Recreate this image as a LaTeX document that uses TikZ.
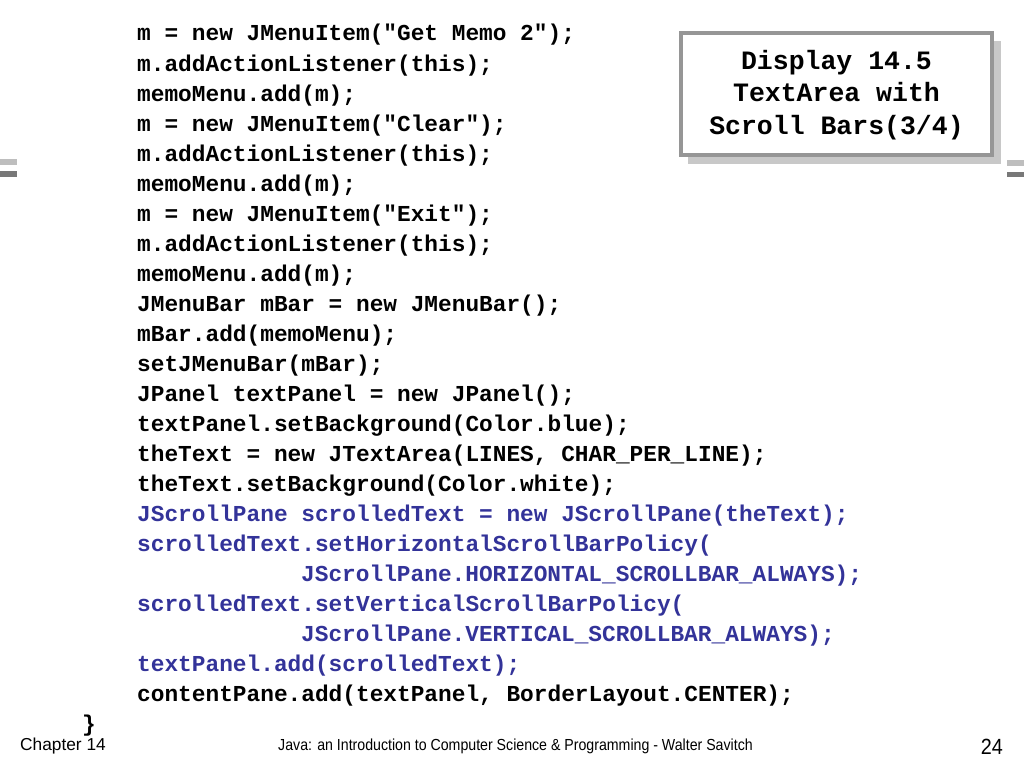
\documentclass[tikz,border=0pt]{standalone}
\usepackage{fontspec}
\setmainfont{Liberation Sans}
\newfontfamily\codefont{Liberation Mono}
\usetikzlibrary{positioning}
\definecolor{codeblue}{RGB}{51,51,153}
\definecolor{boxline}{RGB}{150,150,150}
\definecolor{boxshade}{RGB}{200,200,200}
\definecolor{barlight}{RGB}{190,190,190}
\definecolor{bardark}{RGB}{120,120,120}

\begin{document}
\begin{tikzpicture}[x=1pt,y=-1pt,
    code/.style={anchor=base west,inner sep=0pt,font=\codefont\bfseries\fontsize{22.8}{30}\selectfont},
    bluecode/.style={code,text=codeblue},
    foot/.style={anchor=base,inner sep=0pt,font=\fontsize{16}{20}\selectfont}]
            \useasboundingbox (0,0) rectangle (1024,768);

            % title box
            \fill [boxshade] (688,41) rectangle (1001,164);
            \draw [boxline,fill=white,line width=4pt] (681,33) rectangle (992,155);
            \node [align=center,inner sep=0pt,font=\codefont\bfseries\fontsize{26.5}{32.5}\selectfont] (title) at (836.5,95) {Display 14.5\\TextArea with\\Scroll Bars(3/4)};

            % side bars
            \fill [barlight] (0,159) rectangle (17,165);
            \fill [bardark] (0,171) rectangle (17,177);
            \fill [barlight] (1007,160) rectangle (1024,166);
            \fill [bardark] (1007,172) rectangle (1024,177);

            % code lines
            \node [code] (l1) at (137,41) {m = new JMenuItem("Get Memo 2");};
            \node [code] (l2) at (137,71) {m.addActionListener(this);};
            \node [code] (l3) at (137,101) {memoMenu.add(m);};
            \node [code] (l4) at (137,131) {m = new JMenuItem("Clear");};
            \node [code] (l5) at (137,161) {m.addActionListener(this);};
            \node [code] (l6) at (137,191) {memoMenu.add(m);};
            \node [code] (l7) at (137,221) {m = new JMenuItem("Exit");};
            \node [code] (l8) at (137,251) {m.addActionListener(this);};
            \node [code] (l9) at (137,281) {memoMenu.add(m);};
            \node [code] (l10) at (137,311) {JMenuBar mBar = new JMenuBar();};
            \node [code] (l11) at (137,341) {mBar.add(memoMenu);};
            \node [code] (l12) at (137,371) {setJMenuBar(mBar);};
            \node [code] (l13) at (137,401) {JPanel textPanel = new JPanel();};
            \node [code] (l14) at (137,431) {textPanel.setBackground(Color.blue);};
            \node [code] (l15) at (137,461) {theText = new JTextArea(LINES, CHAR\_PER\_LINE);};
            \node [code] (l16) at (137,491) {theText.setBackground(Color.white);};
            \node [bluecode] (l17) at (137,521) {JScrollPane scrolledText = new JScrollPane(theText);};
            \node [bluecode] (l18) at (137,551) {scrolledText.setHorizontalScrollBarPolicy(};
            \node [bluecode] (l19) at (301,581) {JScrollPane.HORIZONTAL\_SCROLLBAR\_ALWAYS);};
            \node [bluecode] (l20) at (137,611) {scrolledText.setVerticalScrollBarPolicy(};
            \node [bluecode] (l21) at (301,641) {JScrollPane.VERTICAL\_SCROLLBAR\_ALWAYS);};
            \node [bluecode] (l22) at (137,671) {textPanel.add(scrolledText);};
            \node [code] (l23) at (137,701) {contentPane.add(textPanel, BorderLayout.CENTER);};
            \node [code] (brace) at (82,731) {\}};

            % footer
            \node [foot,anchor=base west,font=\fontsize{17.3}{20}\selectfont] (chapter) at (20,750) {Chapter 14};
            \node [foot,transform shape,xscale=0.885] (book) at (515.5,750) {Java: an Introduction to Computer Science \& Programming - Walter Savitch};
            \node [foot,anchor=base east,font=\fontsize{22}{24}\selectfont,transform shape,xscale=0.9] (page) at (1003,754) {24};
        \end{tikzpicture}
\end{document}
